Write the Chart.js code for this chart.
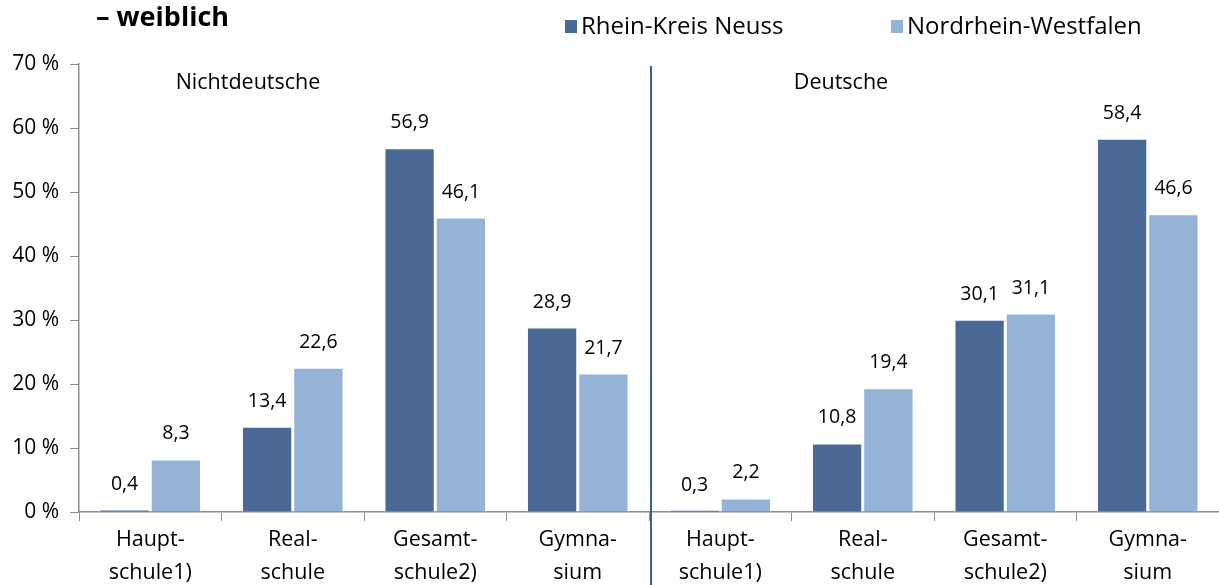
<!DOCTYPE html>
<html>
<head>
<meta charset="utf-8">
<script src="https://cdn.jsdelivr.net/npm/chart.js@4.4.0/dist/chart.umd.min.js"></script>
<style>
  html, body { margin: 0; padding: 0; background: #fff; }
  #wrap { position: relative; width: 1219px; height: 585px; }
</style>
</head>
<body>
<div id="wrap"><canvas id="chart" width="1219" height="585"></canvas></div>
<script>
// Data
const categories = [
  ['Haupt-', 'schule1)'], ['Real-', 'schule'], ['Gesamt-', 'schule2)'], ['Gymna-', 'sium'],
  ['Haupt-', 'schule1)'], ['Real-', 'schule'], ['Gesamt-', 'schule2)'], ['Gymna-', 'sium']
];
const groups = ['Nichtdeutsche', 'Deutsche'];
const rheinKreisNeuss = [0.4, 13.4, 56.9, 28.9, 0.3, 10.8, 30.1, 58.4];
const nordrheinWestfalen = [8.3, 22.6, 46.1, 21.7, 2.2, 19.4, 31.1, 46.6];
const yTicks = [0, 10, 20, 30, 40, 50, 60, 70];

const FONT = '"Open Sans", "Noto Sans", sans-serif';
const DARK = '#4A6A95';
const LIGHT = '#95B3D7';

const fmt = v => v.toFixed(1).replace('.', ',');

// title, legend, group labels, divider and value labels
const extras = {
  id: 'extras',
  afterDatasetsDraw(chart) {
    const ctx = chart.ctx;
    const area = chart.chartArea;
    const x = chart.scales.x;
    const catW = (area.right - area.left) / categories.length;

    ctx.save();
    // value labels
    ctx.fillStyle = '#000';
    ctx.font = '19.5px ' + FONT;
    ctx.textAlign = 'center';
    ctx.textBaseline = 'middle';
    chart.data.datasets.forEach((ds, i) => {
      chart.getDatasetMeta(i).data.forEach((bar, j) => {
        ctx.fillText(fmt(ds.data[j]), bar.x, bar.y - 25);
      });
    });

    // divider between the two groups
    const divX = x.getPixelForValue(3) + catW / 2 + 2;
    ctx.strokeStyle = '#3D5F8E';
    ctx.lineWidth = 2;
    ctx.beginPath();
    ctx.moveTo(divX, area.top + 2);
    ctx.lineTo(divX, chart.height);
    ctx.stroke();

    // group labels
    ctx.font = '21.5px ' + FONT;
    ctx.fillText(groups[0], area.left + 169, area.top + 19);
    ctx.fillText(groups[1], divX + 190, area.top + 19);

    // title
    ctx.font = 'bold 27px ' + FONT;
    ctx.textAlign = 'left';
    ctx.fillText('– weiblich', 96, 18);

    // legend
    ctx.font = '24px ' + FONT;
    const legendX = [565, 891];
    chart.data.datasets.forEach((ds, i) => {
      ctx.fillStyle = ds.backgroundColor;
      ctx.fillRect(legendX[i], 20, 12, 13);
      ctx.fillStyle = '#000';
      ctx.fillText(ds.label, legendX[i] + 16, 27);
    });
    ctx.restore();
  }
};

new Chart(document.getElementById('chart'), {
  type: 'bar',
  data: {
    labels: categories,
    datasets: [
      { label: 'Rhein-Kreis Neuss', data: rheinKreisNeuss, backgroundColor: DARK,
        borderColor: '#ffffff', borderWidth: 1.5 },
      { label: 'Nordrhein-Westfalen', data: nordrheinWestfalen, backgroundColor: LIGHT,
        borderColor: '#ffffff', borderWidth: 1.5 }
    ]
  },
  options: {
    responsive: false,
    animation: false,
    layout: { padding: { top: 64, right: 0, left: 0, bottom: 0 } },
    datasets: { bar: { categoryPercentage: 0.72, barPercentage: 1.0 } },
    scales: {
      x: {
        grid: { display: true, drawOnChartArea: false, offset: true, tickLength: 9, color: '#8c8c8c' },
        border: { color: '#8c8c8c', width: 1.5 },
        ticks: { color: '#000', font: { family: FONT, size: 21.5, lineHeight: 1.5 }, padding: 3, maxRotation: 0, autoSkip: false },
        afterFit(scale) { scale.height = 73; }
      },
      y: {
        min: 0, max: 70,
        afterBuildTicks(scale) { scale.ticks = yTicks.map(v => ({ value: v })); },
        grid: { display: true, drawOnChartArea: false, tickLength: 9, color: '#8c8c8c' },
        border: { color: '#8c8c8c', width: 1.5 },
        ticks: { color: '#000', font: { family: FONT, size: 21 }, padding: 11, callback: v => v + ' %' },
        afterFit(scale) { scale.width = 79; }
      }
    },
    plugins: {
      legend: { display: false },
      tooltip: { enabled: false }
    }
  },
  plugins: [extras]
});
</script>
</body>
</html>
